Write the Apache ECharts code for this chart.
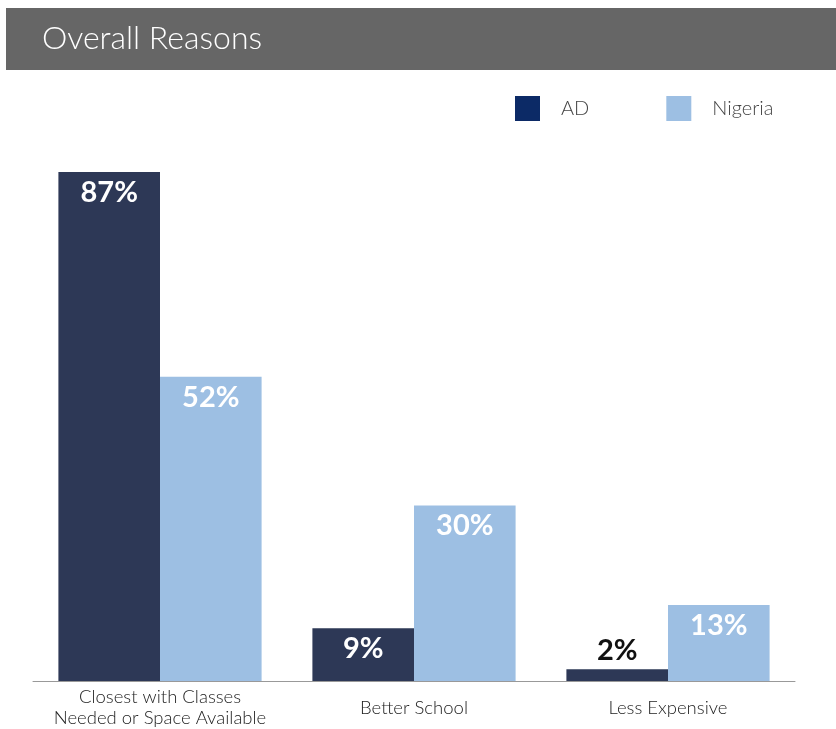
<!DOCTYPE html>
<html>
<head>
<meta charset="utf-8">
<script src="https://cdn.jsdelivr.net/npm/echarts@6/dist/echarts.min.js"></script>
<style>html,body{margin:0;padding:0;background:#fff}#c{width:836px;height:729px}</style>
</head>
<body>
<div id="c"></div>
<script>
const categories = ['Closest with Classes\nNeeded or Space Available', 'Better School', 'Less Expensive'];
const adValues = [87, 9, 2];
const nigeriaValues = [52, 30, 13];
const seriesNames = ['AD', 'Nigeria'];

const chart = echarts.init(document.getElementById('c'));
const font = 'Lato, "Open Sans", sans-serif';

function labelFor(v) {
  return v < 5
    ? { show: true, position: 'top', distance: 4, color: '#111', fontSize: 29, fontWeight: 'bold', fontFamily: font, formatter: '{c}%' }
    : { show: true, position: 'insideTop', distance: 6, color: '#fff', fontSize: 29, fontWeight: 'bold', fontFamily: font, formatter: '{c}%' };
}

chart.setOption({
  animation: false,
  graphic: [{ type: 'rect', shape: { x: 6, y: 8, width: 830, height: 62 }, style: { fill: '#666666' }, z: 0 }],
  title: {
    text: 'Overall Reasons', left: 37, top: 18,
    textStyle: { color: '#fff', fontSize: 32, fontWeight: 300, fontFamily: font }
  },
  legend: {
    data: [
      { name: seriesNames[0], itemStyle: { color: '#0c2a66' } },
      { name: seriesNames[1], itemStyle: { color: '#9dbfe3' } }
    ],
    left: 510, top: 91, itemWidth: 25, itemHeight: 25, itemGap: 77,
    icon: 'rect',
    textStyle: { color: '#444', fontSize: 20, fontWeight: 300, fontFamily: font, padding: [3, 0, 0, 16] }
  },
  grid: { left: 33, right: 41, top: 96, bottom: 47 },
  xAxis: {
    type: 'category', data: categories,
    axisLine: { lineStyle: { color: '#999', width: 1 } },
    axisTick: { show: false },
    axisLabel: { color: '#222', fontSize: 18.5, fontWeight: 300, fontFamily: font, lineHeight: 21, margin: 27, verticalAlign: 'middle', interval: 0 }
  },
  yAxis: { type: 'value', min: 0, max: 100, show: false, splitLine: { show: false } },
  series: [
    {
      name: seriesNames[0], type: 'bar', barGap: '0%', barCategoryGap: '20%',
      itemStyle: { color: '#2d3856' },
      data: adValues.map(v => ({ value: v, label: labelFor(v) }))
    },
    {
      name: seriesNames[1], type: 'bar',
      itemStyle: { color: '#9dbfe3' },
      data: nigeriaValues.map(v => ({ value: v, label: labelFor(v) }))
    }
  ]
});
</script>
</body>
</html>
